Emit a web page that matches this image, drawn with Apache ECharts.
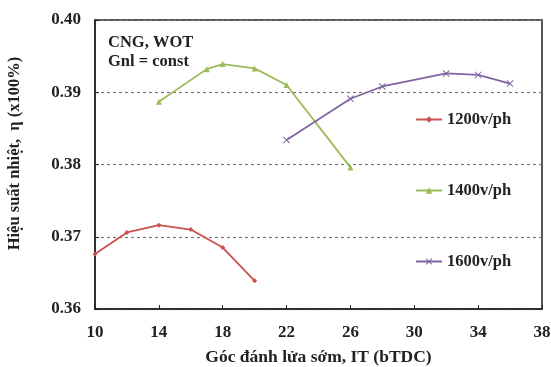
<!DOCTYPE html>
<html>
<head>
<meta charset="utf-8">
<script src="https://cdn.jsdelivr.net/npm/echarts@6/dist/echarts.min.js"></script>
<style>
  html, body { margin: 0; padding: 0; background: #fff; }
  #chart { width: 551px; height: 367px; }
</style>
</head>
<body>
<div id="chart"></div>
<script>
// data
const rpm1200X = [10, 12, 14, 16, 18, 20];
const rpm1200Y = [0.3676, 0.3706, 0.3716, 0.3710, 0.3685, 0.3639];
const rpm1400X = [14, 17, 18, 20, 22, 26];
const rpm1400Y = [0.3887, 0.3932, 0.3939, 0.3933, 0.3910, 0.3796];
const rpm1600X = [22, 26, 28, 32, 34, 36];
const rpm1600Y = [0.3834, 0.3891, 0.3908, 0.3926, 0.3924, 0.3912];
const seriesNames = ['1200v/ph', '1400v/ph', '1600v/ph'];
const seriesColors = ['#C9524F', '#9BBB59', '#8064A2'];

const font = '"Liberation Serif", "DejaVu Serif", serif';
const crossPath = 'path://M0,1L1,0L5,4L9,0L10,1L6,5L10,9L9,10L5,6L1,10L0,9L4,5Z';
const zip = (xs, ys) => xs.map((x, i) => [x, ys[i]]);

const chart = echarts.init(document.getElementById('chart'));

chart.setOption({
  animation: false,
  color: seriesColors,
  grid: {
    left: 95, right: 9, top: 20, bottom: 58,
    outerBoundsMode: 'none', containLabel: false,
    show: true, borderColor: '#222', borderWidth: 1.5,
  },
  legend: {
    orient: 'vertical',
    left: 410,
    top: 106,
    itemGap: 54,
    itemWidth: 26,
    itemHeight: 8,
    itemStyle: { borderWidth: 0 },
    textStyle: { fontFamily: font, fontWeight: 'bold', fontSize: 16.5, color: '#222' },
    data: seriesNames,
  },
  graphic: [
    {
      type: 'text',
      left: 108,
      top: 33,
      style: { text: 'CNG, WOT\nGnl = const', font: 'bold 16.5px ' + font, fill: '#222', lineHeight: 19 },
    },
  ],
  xAxis: {
    type: 'value',
    min: 10,
    max: 38,
    interval: 4,
    name: 'Góc đánh lửa sớm, IT (bTDC)',
    nameLocation: 'middle',
    nameGap: 39,
    nameTextStyle: { fontFamily: font, fontWeight: 'bold', fontSize: 17.5, color: '#222' },
    axisLine: { lineStyle: { color: '#222', width: 1.5 } },
    axisTick: { inside: true, length: 4, lineStyle: { color: '#222' } },
    axisLabel: { fontFamily: font, fontWeight: 'bold', fontSize: 17, color: '#222', margin: 15 },
    splitLine: { show: false },
  },
  yAxis: {
    type: 'value',
    min: 0.36,
    max: 0.40,
    interval: 0.01,
    name: 'Hiệu suất nhiệt,  η (x100%)',
    nameLocation: 'middle',
    nameGap: 72,
    nameTextStyle: {
      fontFamily: font, fontWeight: 'bold', fontSize: 16.5, color: '#222',
      padding: [0, 0, 0, 22],
    },
    axisLine: { lineStyle: { color: '#222', width: 1.5 } },
    axisTick: { inside: true, length: 4, lineStyle: { color: '#222' } },
    axisLabel: {
      fontFamily: font, fontWeight: 'bold', fontSize: 17, color: '#222', margin: 14,
      formatter: (v) => v.toFixed(2),
    },
    splitLine: { show: true, lineStyle: { color: '#777', type: [3, 3], width: 1.2 } },
  },
  series: [
    {
      name: seriesNames[0], type: 'line', data: zip(rpm1200X, rpm1200Y),
      symbol: 'diamond', symbolSize: 5, lineStyle: { width: 1.8 },
    },
    {
      name: seriesNames[1], type: 'line', data: zip(rpm1400X, rpm1400Y),
      symbol: 'triangle', symbolSize: 6, lineStyle: { width: 1.8 },
    },
    {
      name: seriesNames[2], type: 'line', data: zip(rpm1600X, rpm1600Y),
      symbol: crossPath, symbolSize: 7, lineStyle: { width: 1.8 },
    },
  ],
});
</script>
</body>
</html>
